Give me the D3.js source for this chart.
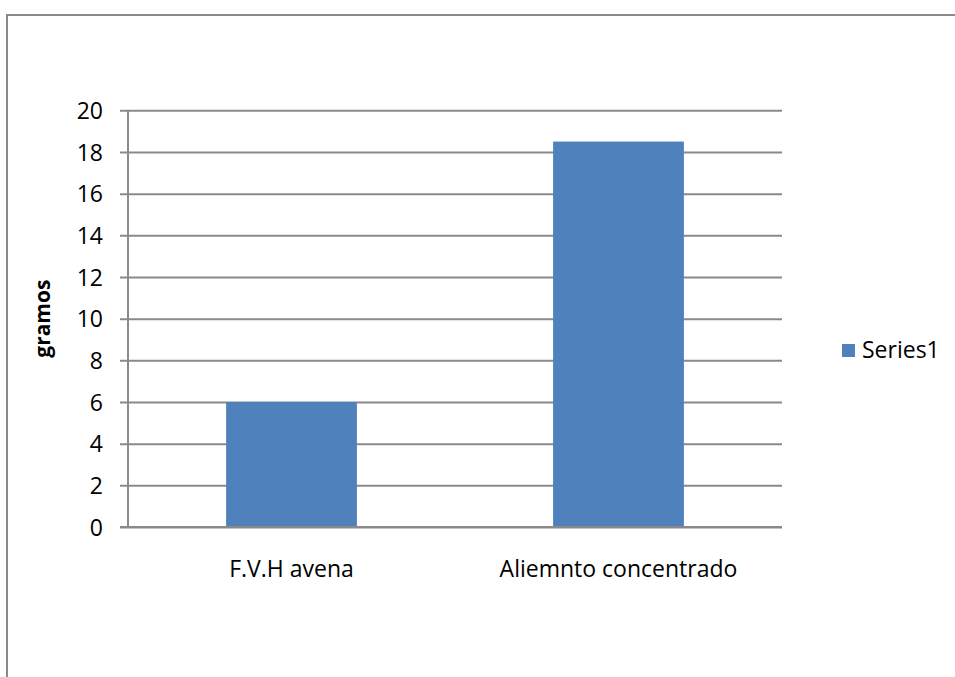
<!DOCTYPE html>
<html>
<head>
<meta charset="utf-8">
<script src="https://cdn.jsdelivr.net/npm/d3@7"></script>
<style>
  html, body { margin: 0; padding: 0; background: #fff; }
  svg { display: block; }
  text { font-family: "Open Sans", sans-serif; fill: #000; }
</style>
</head>
<body>
<svg id="chart" width="955" height="677"></svg>
<script>
// Chart data
const categories = ["F.V.H avena", "Aliemnto concentrado"];
const values = [6, 18.5];
const seriesName = "Series1";
const yTicks = [0, 2, 4, 6, 8, 10, 12, 14, 16, 18, 20];
const yTitle = "gramos";

const svg = d3.select("#chart");
const gray = "#8a8a8a";
const barColor = "#4f81bd";

// Outer chart frame (open on right and bottom edges)
svg.append("path")
  .attr("d", "M7,677 V15 H955")
  .attr("fill", "none")
  .attr("stroke", gray)
  .attr("stroke-width", 2);

const plot = { left: 128, right: 782, top: 110.3, bottom: 527 };

const x = d3.scaleBand()
  .domain(categories)
  .range([plot.left, plot.right])
  .paddingInner(0.6)
  .paddingOuter(0.3);

const y = d3.scaleLinear()
  .domain([0, 20])
  .range([plot.bottom, plot.top]);

// Horizontal gridlines with short ticks to the left of the axis
const yAxis = d3.axisLeft(y)
  .tickValues(yTicks)
  .tickSize(-(plot.right - plot.left))
  .tickPadding(0)
  .tickFormat(d3.format("d"));

const gy = svg.append("g")
  .attr("transform", `translate(${plot.left},0)`)
  .call(yAxis);
gy.select(".domain").remove();
gy.selectAll(".tick line")
  .attr("x1", -8)
  .attr("stroke", gray)
  .attr("stroke-width", 2);
gy.selectAll(".tick text")
  .attr("x", -25)
  .attr("dy", "0.35em")
  .attr("text-anchor", "end")
  .style("font-family", "'Open Sans', sans-serif")
  .style("font-size", "23px")
  .attr("fill", "#000");

// Vertical axis line
svg.append("line")
  .attr("x1", plot.left).attr("x2", plot.left)
  .attr("y1", plot.top).attr("y2", plot.bottom)
  .attr("stroke", gray)
  .attr("stroke-width", 2);

// Bars
svg.append("g")
  .selectAll("rect")
  .data(values)
  .join("rect")
  .attr("x", (d, i) => x(categories[i]))
  .attr("y", d => y(d))
  .attr("width", x.bandwidth())
  .attr("height", d => y(0) - y(d))
  .attr("fill", barColor);

// Redraw baseline over bars
svg.append("line")
  .attr("x1", plot.left - 8).attr("x2", plot.right)
  .attr("y1", y(0)).attr("y2", y(0))
  .attr("stroke", gray)
  .attr("stroke-width", 2);

// Category labels
svg.append("g")
  .selectAll("text")
  .data(categories)
  .join("text")
  .attr("x", d => x(d) + x.bandwidth() / 2)
  .attr("y", 577)
  .attr("text-anchor", "middle")
  .style("font-size", "23px")
  .text(d => d);

// Y axis title
svg.append("text")
  .attr("transform", `translate(50,${(plot.top + plot.bottom) / 2}) rotate(-90)`)
  .attr("text-anchor", "middle")
  .style("font-size", "21px")
  .style("font-weight", "bold")
  .text(yTitle);

// Legend
const legend = svg.append("g").attr("transform", "translate(842,344)");
legend.append("rect")
  .attr("width", 13).attr("height", 13)
  .attr("fill", barColor);
legend.append("text")
  .attr("x", 20)
  .attr("y", 14)
  .style("font-size", "23px")
  .text(seriesName);
</script>
</body>
</html>
